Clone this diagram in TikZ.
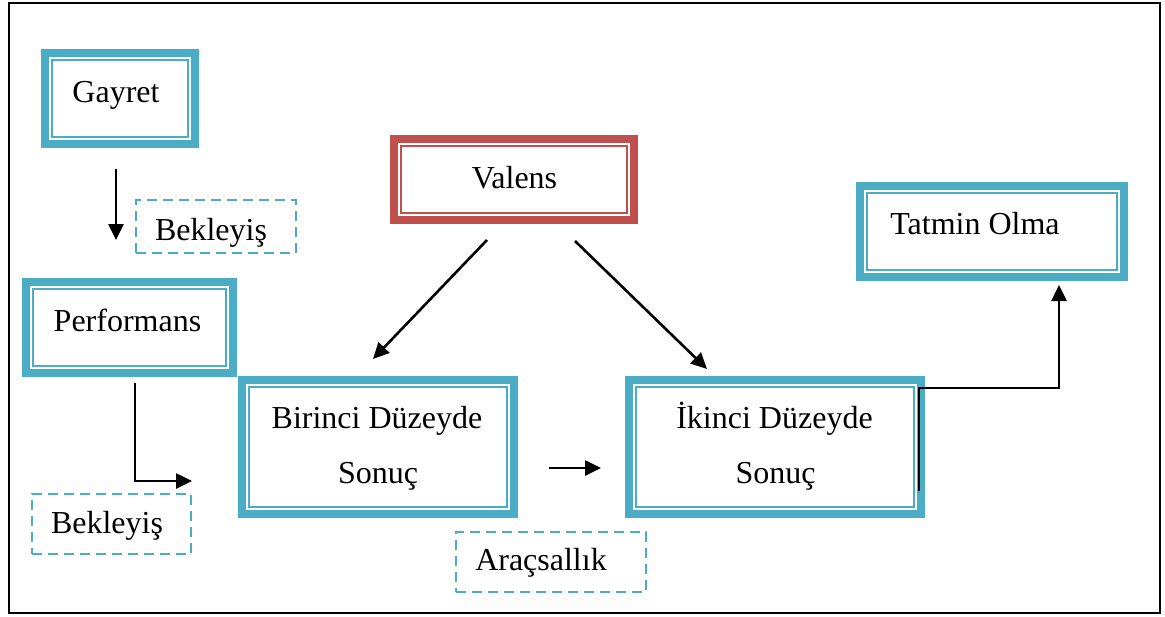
\documentclass[tikz,border=0pt]{standalone}
\usepackage{fontspec}
\setmainfont{Liberation Serif}
\usetikzlibrary{arrows.meta}
\definecolor{aqua}{HTML}{4BACC6}
\definecolor{wred}{HTML}{C0504D}
\tikzset{
  dbox/.style={draw=#1, line width=8pt, inner sep=0pt, outer sep=0pt, fill=white,
    path picture={\draw[#1, line width=2.2pt]
      ([shift={(7pt,7pt)}]path picture bounding box.south west) rectangle
      ([shift={(-7pt,-7pt)}]path picture bounding box.north east);}},
  dbox/.default=aqua,
  dashbox/.style={draw=aqua, line width=2.5pt, dash pattern=on 10pt off 6pt, inner sep=0pt, outer sep=0pt},
  txt/.style={anchor=base, inner sep=0pt, font=\fontsize{32}{38}\selectfont},
  arr/.style={line width=2.6pt, -{Triangle[length=16pt,width=15pt]}},
  frame/.style={line width=2.8pt}
}
\begin{document}
\begin{tikzpicture}[x=1pt,y=-1pt]
\useasboundingbox (0,0) rectangle (1165,616);
\fill[white] (0,0) rectangle (1165,616);
\draw[frame] (9,3) rectangle (1160,613);

% boxes
\node[dbox, minimum width=150pt, minimum height=91pt] (g) at (120,98.5) {};
\node[dbox, minimum width=207pt, minimum height=91pt] (p) at (129.5,327.5) {};
\node[dbox=wred, minimum width=240pt, minimum height=81pt] (v) at (514,179.5) {};
\node[dbox, minimum width=264pt, minimum height=91pt] (t) at (992,231.5) {};
\node[dbox, minimum width=272pt, minimum height=134pt] (b1) at (378,447) {};
\node[dbox, minimum width=292pt, minimum height=134pt] (b2) at (775,447) {};
\node[dashbox, minimum width=160pt, minimum height=53pt] (k1) at (216,226.5) {};
\node[dashbox, minimum width=159pt, minimum height=60pt] (k2) at (111.5,524) {};
\node[dashbox, minimum width=190pt, minimum height=60pt] (a) at (551,562) {};

% texts
\node[txt] (gt) at (116,102) {Gayret};
\node[txt] (k1t) at (211,240) {Bekleyiş};
\node[txt] (pt) at (127.5,331) {Performans};
\node[txt] (k2t) at (107,533) {Bekleyiş};
\node[txt] (vt) at (514.5,188) {Valens};
\node[txt] (tt) at (975,234) {Tatmin Olma};
\node[txt] (b1a) at (377,428) {Birinci Düzeyde};
\node[txt] (b1b) at (378,483) {Sonuç};
\node[txt] (b2a) at (774.5,428) {İkinci Düzeyde};
\node[txt] (b2b) at (775.5,483) {Sonuç};
\node[txt] (at) at (541,570) {Araçsallık};

% connector end points
\coordinate (c1s) at (116,169);
\coordinate (c1e) at (116,240);
\coordinate (c2s) at (135,383);
\coordinate (c2m) at (135,481);
\coordinate (c2e) at (192,481);
\coordinate (c3s) at (549,468);
\coordinate (c3e) at (601,468);
\coordinate (c4s) at (487,240);
\coordinate (c4e) at (373,359);
\coordinate (c5s) at (575,241);
\coordinate (c5e) at (707,369);
\coordinate (c6s) at (919,491);
\coordinate (c6m) at (919,388);
\coordinate (c6n) at (1059,388);
\coordinate (c6e) at (1059,285);

\draw[arr] (c1s) -- (c1e);
\draw[arr] (c2s) -- (c2m) -- (c2e);
\draw[arr] (c3s) -- (c3e);
\draw[arr] (c4s) -- (c4e);
\draw[arr] (c5s) -- (c5e);
\draw[arr, line join=miter] (c6s) -- (c6m) -- (c6n) -- (c6e);
\end{tikzpicture}
\end{document}
